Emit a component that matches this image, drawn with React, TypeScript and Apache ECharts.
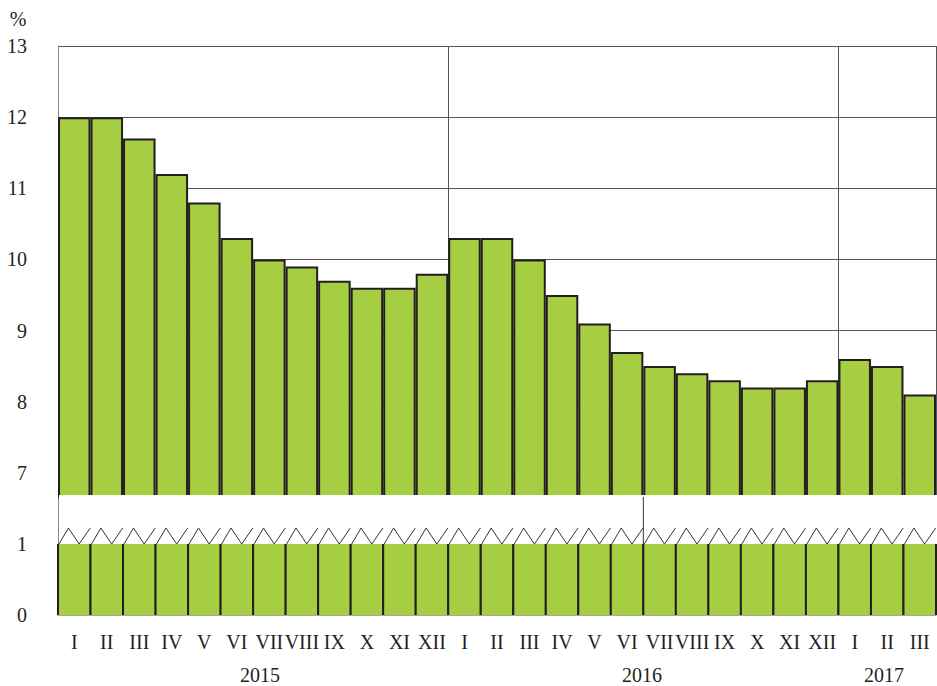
import React, { useEffect, useRef } from "react";
import * as echarts from "echarts";

const monthLabels = [
  "I", "II", "III", "IV", "V", "VI", "VII", "VIII", "IX", "X", "XI", "XII",
  "I", "II", "III", "IV", "V", "VI", "VII", "VIII", "IX", "X", "XI", "XII",
  "I", "II", "III",
];
const values = [
  12.0, 12.0, 11.7, 11.2, 10.8, 10.3, 10.0, 9.9, 9.7, 9.6, 9.6, 9.8,
  10.3, 10.3, 10.0, 9.5, 9.1, 8.7, 8.5, 8.4, 8.3, 8.2, 8.2, 8.3,
  8.6, 8.5, 8.1,
];
const yearLabels = ["2015", "2016", "2017"];
const yearLabelX = [260, 642, 884];
const upperMin = 6.66;
const upperMax = 13;
const lowerMax = 1;
const lowerAxisMax = 1.662;
const zigzagTop = 1.225;
const gapLineIndex = 18;

const GREEN = "#A6CE42";
const BORDER = "#231F20";
const GRID = "#555555";
const AXIS = "#888888";
const FONT = "'Liberation Serif', 'Times New Roman', serif";

export default function App() {
  const ref = useRef<HTMLDivElement>(null);
  useEffect(() => {
    if (!ref.current) return;
    const chart = echarts.init(ref.current, undefined, { renderer: "svg" });
    const lowerData = values.map((v, i) => [i, Math.min(v, lowerMax)]);
    const option: any = {
      animation: false,
      backgroundColor: "#ffffff",
      grid: [
        { left: 58, right: 1, top: 46, height: 451 },
        { left: 58, right: 1, top: 497, height: 118 },
      ],
      xAxis: [
        {
          type: "category",
          gridIndex: 0,
          data: monthLabels,
          axisLine: { show: false },
          axisTick: { show: false },
          axisLabel: { show: false },
          splitLine: {
            show: true,
            interval: (i: number) => i % 12 === 0,
            lineStyle: { color: GRID, width: 1 },
          },
        },
        {
          type: "category",
          gridIndex: 1,
          data: monthLabels,
          axisLine: { show: true, lineStyle: { color: AXIS, width: 1.5 } },
          axisTick: { show: false },
          splitLine: { show: false },
          axisLabel: {
            interval: 0,
            margin: 17,
            fontFamily: FONT,
            fontSize: 20,
            color: BORDER,
          },
        },
      ],
      yAxis: [
        {
          type: "value",
          gridIndex: 0,
          min: upperMin,
          max: upperMax,
          splitNumber: 6,
          axisLine: { show: true, lineStyle: { color: AXIS, width: 1 } },
          axisTick: { show: false },
          axisLabel: {
            showMinLabel: false,
            margin: 31,
            fontFamily: FONT,
            fontSize: 20,
            color: BORDER,
          },
          splitLine: {
            show: true,
            showMinLine: false,
            lineStyle: { color: GRID, width: 1 },
          },
        },
        {
          type: "value",
          gridIndex: 1,
          min: 0,
          max: lowerAxisMax,
          interval: 1,
          axisLine: { show: true, lineStyle: { color: AXIS, width: 1 } },
          axisTick: { show: false },
          axisLabel: {
            showMaxLabel: false,
            margin: 31,
            fontFamily: FONT,
            fontSize: 20,
            color: BORDER,
          },
          splitLine: { show: false },
        },
      ],
      series: [
        {
          type: "bar",
          xAxisIndex: 0,
          yAxisIndex: 0,
          data: values,
          barCategoryGap: "0%",
          z: 2,
          itemStyle: { color: GREEN, borderColor: BORDER, borderWidth: 2 },
        },
        {
          type: "custom",
          xAxisIndex: 1,
          yAxisIndex: 1,
          data: lowerData,
          encode: { x: 0, y: 1 },
          clip: false,
          z: 5,
          renderItem: (params: any, api: any) => {
            const i = api.value(0);
            const base = api.coord([i, 0]);
            const top = api.coord([i, api.value(1)]);
            const w = api.size([1, 0])[0];
            const x0 = base[0] - w / 2;
            const x1 = base[0] + w / 2;
            const yz = api.coord([i, zigzagTop])[1];
            const yTop = api.coord([i, lowerAxisMax])[1];
            const coverX = i === 0 ? x0 + 1 : x0 - 1;
            const children: any[] = [
              {
                type: "rect",
                shape: { x: coverX, y: yTop - 2, width: x1 - coverX + 1, height: 4 },
                style: { fill: "#ffffff", stroke: null },
              },
              {
                type: "rect",
                shape: { x: x0, y: top[1], width: w, height: base[1] - top[1] },
                style: { fill: GREEN },
              },
              {
                type: "line",
                shape: { x1: x0, y1: top[1], x2: x0, y2: base[1] },
                style: { stroke: BORDER, lineWidth: 2 },
              },
              {
                type: "line",
                shape: { x1: x1, y1: top[1], x2: x1, y2: base[1] },
                style: { stroke: BORDER, lineWidth: 2 },
              },
              {
                type: "polyline",
                shape: {
                  points: [
                    [x0 + w * 0.03, top[1]],
                    [x0 + w * 0.32, yz],
                    [x0 + w * 0.65, top[1]],
                    [x1 - w * 0.01, yz],
                  ],
                },
                style: { stroke: "#333333", fill: "none", lineWidth: 1 },
              },
            ];
            if (i === gapLineIndex) {
              children.push({
                type: "line",
                shape: { x1: x0, y1: yTop, x2: x0, y2: top[1] },
                style: { stroke: "#333333", lineWidth: 1 },
              });
            }
            return { type: "group", children };
          },
        },
      ],
      graphic: [
        {
          type: "text",
          x: 18,
          y: 19,
          style: {
            text: "%",
            fontFamily: FONT,
            fontSize: 20,
            fill: BORDER,
            align: "center",
            verticalAlign: "middle",
          },
        },
        ...yearLabels.map((t, k) => ({
          type: "text",
          x: yearLabelX[k],
          y: 675,
          style: {
            text: t,
            fontFamily: FONT,
            fontSize: 20,
            fill: BORDER,
            align: "center",
            verticalAlign: "middle",
          },
        })),
      ],
    };
    chart.setOption(option);
    return () => chart.dispose();
  }, []);
  return (
    <div
      ref={ref}
      style={{ position: "fixed", left: 0, top: 0, width: 937, height: 686 }}
    />
  );
}
